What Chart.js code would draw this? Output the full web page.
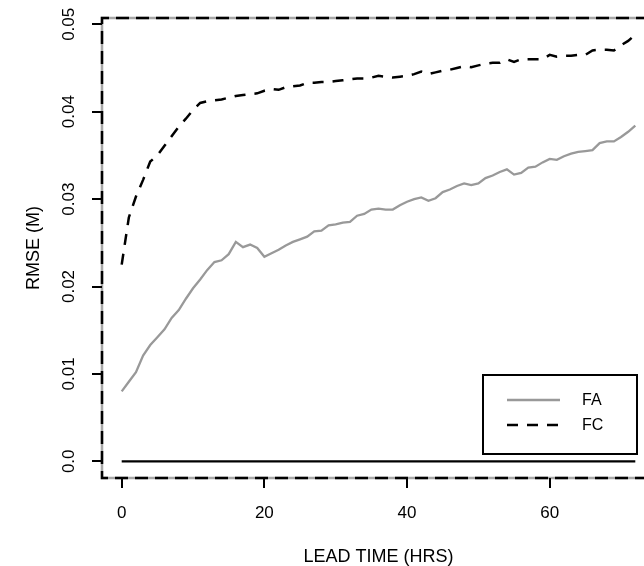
<!DOCTYPE html>
<html>
<head>
<meta charset="utf-8">
<script src="https://cdn.jsdelivr.net/npm/chart.js@4/dist/chart.umd.min.js"></script>
<style>
  html, body { margin: 0; padding: 0; background: #fff; }
  canvas { display: block; }
</style>
</head>
<body>
<canvas id="rmseChart" width="644" height="566"></canvas>
<script>
// lead time in hours (0..72)
const leadTime = [];
for (let h = 0; h <= 72; h++) leadTime.push(h);

const faRmse = [
  0.0080, 0.0091, 0.0102, 0.0121, 0.0133, 0.0142, 0.0151, 0.0164, 0.0173, 0.0186,
  0.0198, 0.0208, 0.0219, 0.0228, 0.0230, 0.0237, 0.0251, 0.0245, 0.0248, 0.0244,
  0.0234, 0.0238, 0.0242, 0.0247, 0.0251, 0.0254, 0.0257, 0.0263, 0.0264, 0.0270,
  0.0271, 0.0273, 0.0274, 0.0281, 0.0283, 0.0288, 0.0289, 0.0288, 0.0288, 0.0293,
  0.0297, 0.0300, 0.0302, 0.0298, 0.0301, 0.0308, 0.0311, 0.0315, 0.0318, 0.0316,
  0.0318, 0.0324, 0.0327, 0.0331, 0.0334, 0.0328, 0.0330, 0.0336, 0.0337, 0.0342,
  0.0346, 0.0345, 0.0349, 0.0352, 0.0354, 0.0355, 0.0356, 0.0364, 0.0366, 0.0366,
  0.0371, 0.0377, 0.0384
];

const fcRmse = [
  0.0225, 0.0279, 0.0303, 0.0322, 0.0343, 0.0350, 0.0361, 0.0372, 0.0383, 0.0392,
  0.0402, 0.0410, 0.0412, 0.0413, 0.0414, 0.0416, 0.0418, 0.0419, 0.0420, 0.0421,
  0.0424, 0.0426, 0.0425, 0.0428, 0.0429, 0.0430, 0.0433, 0.0433, 0.0434, 0.0434,
  0.0435, 0.0436, 0.0437, 0.0438, 0.0438, 0.0439, 0.0441, 0.0440, 0.0439, 0.0440,
  0.0441, 0.0443, 0.0446, 0.0443, 0.0445, 0.0447, 0.0448, 0.0450, 0.0452, 0.0451,
  0.0453, 0.0455, 0.0456, 0.0456, 0.0460, 0.0457, 0.0460, 0.0460, 0.0460, 0.0460,
  0.0465, 0.0463, 0.0464, 0.0464, 0.0465, 0.0465, 0.0470, 0.0471, 0.0471, 0.0470,
  0.0476, 0.0481, 0.0488
];

const xTicks = [0, 20, 40, 60];
const yTicks = [0.00, 0.01, 0.02, 0.03, 0.04, 0.05];
const yTickLabels = ['0.0', '0.01', '0.02', '0.03', '0.04', '0.05'];
const seriesNames = ['FA', 'FC'];

const FONT = '"Liberation Sans", Arial, sans-serif';
const GRAY = '#999999';

function toPoints(ys) {
  return ys.map((v, i) => ({ x: leadTime[i], y: v }));
}

// R-like frame, ticks, labels and legend drawn from the chart's scales
const rFrame = {
  id: 'rFrame',
  afterDraw(chart) {
    const ctx = chart.ctx;
    const a = chart.chartArea;
    const xs = chart.scales.x, ys = chart.scales.y;
    ctx.save();

    // box: gray solid under black dashes
    ctx.lineWidth = 2.5;
    ctx.strokeStyle = '#a8a8a8';
    ctx.setLineDash([]);
    ctx.beginPath();
    ctx.moveTo(a.right + 5, a.top); ctx.lineTo(a.left, a.top);
    ctx.lineTo(a.left, a.bottom); ctx.lineTo(a.right + 5, a.bottom);
    ctx.stroke();
    ctx.strokeStyle = '#000';
    ctx.setLineDash([13, 7]);
    ctx.stroke();
    ctx.setLineDash([]);

    // tick marks
    ctx.lineWidth = 2;
    ctx.beginPath();
    xTicks.forEach(t => {
      const px = Math.round(xs.getPixelForValue(t));
      ctx.moveTo(px, a.bottom); ctx.lineTo(px, a.bottom + 10);
    });
    yTicks.forEach(t => {
      const py = Math.round(ys.getPixelForValue(t));
      ctx.moveTo(a.left, py); ctx.lineTo(a.left - 10, py);
    });
    ctx.stroke();

    // tick labels
    ctx.fillStyle = '#000';
    ctx.font = '17px ' + FONT;
    ctx.textAlign = 'center';
    ctx.textBaseline = 'middle';
    xTicks.forEach(t => ctx.fillText(String(t), xs.getPixelForValue(t), 513));
    yTicks.forEach((t, i) => {
      ctx.save();
      ctx.translate(69, ys.getPixelForValue(t));
      ctx.rotate(-Math.PI / 2);
      ctx.fillText(yTickLabels[i], 0, 0);
      ctx.restore();
    });

    // axis titles (centred on the full plot region, right edge lies off-canvas)
    const midX = (xs.getPixelForValue(-2.88) + xs.getPixelForValue(74.88)) / 2;
    ctx.font = '18px ' + FONT;
    ctx.fillText('LEAD TIME (HRS)', midX, 557);
    ctx.save();
    ctx.translate(34, (a.top + a.bottom) / 2);
    ctx.rotate(-Math.PI / 2);
    ctx.fillText('RMSE (M)', 0, 0);
    ctx.restore();

    // legend box
    ctx.lineWidth = 2;
    ctx.strokeStyle = '#000';
    ctx.fillStyle = '#fff';
    ctx.fillRect(483, 375, 154, 79);
    ctx.strokeRect(483, 375, 154, 79);
    const ds = chart.data.datasets;
    [0, 1].forEach(i => {
      const yy = 400 + i * 25;
      ctx.strokeStyle = ds[i].borderColor;
      ctx.lineWidth = ds[i].borderWidth;
      ctx.setLineDash(ds[i].borderDash || []);
      ctx.beginPath();
      ctx.moveTo(507, yy); ctx.lineTo(560, yy);
      ctx.stroke();
      ctx.setLineDash([]);
      ctx.fillStyle = '#000';
      ctx.font = '16px ' + FONT;
      ctx.textAlign = 'left';
      ctx.fillText(seriesNames[i], 582, yy + 1);
    });
    ctx.restore();
  }
};

new Chart(document.getElementById('rmseChart'), {
  type: 'line',
  data: {
    datasets: [
      {
        label: seriesNames[0],
        data: toPoints(faRmse),
        borderColor: GRAY,
        borderWidth: 2.3,
        pointRadius: 0,
        tension: 0
      },
      {
        label: seriesNames[1],
        data: toPoints(fcRmse),
        borderColor: '#000',
        borderWidth: 2.5,
        borderDash: [11, 9],
        pointRadius: 0,
        tension: 0
      },
      {
        label: 'zero',
        data: [{ x: leadTime[0], y: 0 }, { x: leadTime[leadTime.length - 1], y: 0 }],
        borderColor: '#000',
        borderWidth: 2.3,
        pointRadius: 0
      }
    ]
  },
  options: {
    responsive: false,
    devicePixelRatio: 1,
    animation: false,
    layout: { padding: { left: 102, top: 18, right: 0, bottom: 88 } },
    plugins: { legend: { display: false }, tooltip: { enabled: false } },
    scales: {
      x: { type: 'linear', display: false, min: -2.762, max: 73.22 },
      y: { type: 'linear', display: false, min: -0.00191, max: 0.05072 }
    }
  },
  plugins: [rFrame]
});
</script>
</body>
</html>
